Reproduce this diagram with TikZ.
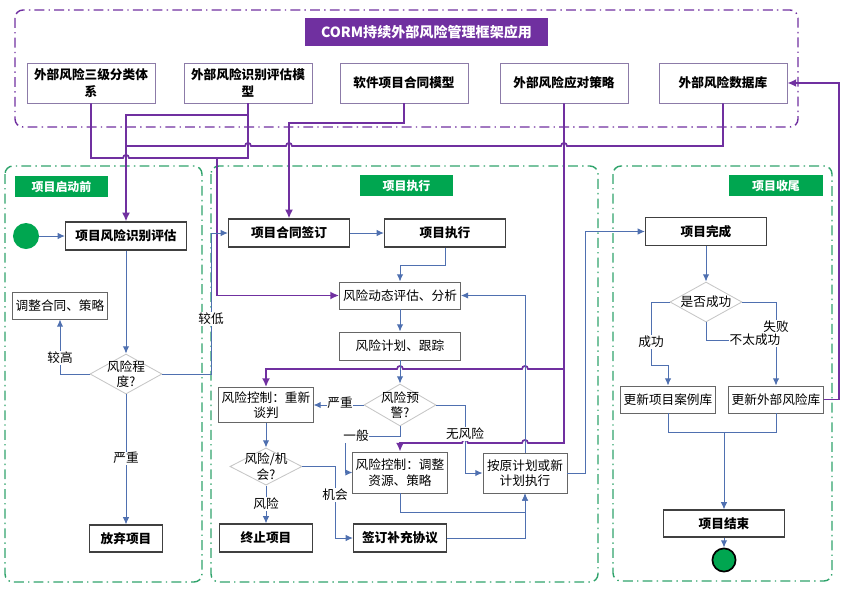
\documentclass[tikz,border=0pt]{standalone}
\usepackage{fontspec}
\setmainfont{Noto Sans CJK SC}
\usepackage{tikz}
\usetikzlibrary{arrows.meta,positioning,shapes.geometric}
\definecolor{CormPurple}{HTML}{7030A0}
\definecolor{CormFrame}{HTML}{8C7BA8}
\definecolor{CormGreen}{HTML}{00A650}
\definecolor{CormDash}{HTML}{2FA36B}
\definecolor{CormBlue}{HTML}{4F70B0}
\definecolor{CormRule}{HTML}{404040}
\definecolor{CormGrey}{HTML}{C6C6C6}

\begin{document}
\begin{tikzpicture}[
    x=0.025cm, y=-0.025cm,
    every node/.style={font=\fontsize{9}{11}\selectfont},
    fwbox/.style={
        rectangle,
        draw=CormFrame,
        fill=white,
        line width=0.6pt,
        minimum width=3.2cm,
        minimum height=1cm,
        align=center,
        inner sep=2pt,
        font=\fontsize{9}{12}\selectfont\bfseries
    },
    strong/.style={
        rectangle,
        draw=CormRule,
        fill=white,
        line width=0.8pt,
        minimum width=3.025cm,
        minimum height=0.7cm,
        align=center,
        inner sep=2pt,
        font=\fontsize{9}{11}\selectfont\bfseries
    },
    stage/.style={
        rectangle,
        draw=CormRule!80,
        fill=white,
        line width=0.6pt,
        minimum width=3.025cm,
        minimum height=0.7cm,
        align=center,
        inner sep=2pt
    },
    decision/.style={
        diamond,
        draw=CormGrey,
        fill=white,
        line width=0.6pt,
        minimum width=1.8cm,
        minimum height=1cm,
        inner sep=0pt
    },
    phase/.style={
        rectangle,
        fill=CormGreen,
        text=white,
        minimum width=2.325cm,
        minimum height=0.525cm,
        inner sep=0pt,
        font=\fontsize{8.5}{10}\selectfont\bfseries
    },
    lbl/.style={fill=white, inner sep=0.5pt},
    panel/.style={
        draw=CormDash,
        line width=1pt,
        rounded corners=0.2cm,
        dash pattern=on 7pt off 3pt on 1pt off 3pt
    },
    fwpanel/.style={panel, draw=CormPurple},
    flow/.style={
        -{Latex[length=1.8mm,width=1.6mm]},
        line width=0.7pt,
        color=CormBlue
    },
    flowline/.style={line width=0.7pt, color=CormBlue},
    fwflow/.style={
        -{Latex[length=2.2mm,width=2mm]},
        line width=1.2pt,
        color=CormPurple
    },
    fwline/.style={line width=1.2pt, color=CormPurple},
    endpoint/.style={circle, fill=CormGreen, minimum size=0.65cm, inner sep=0pt}
]
\useasboundingbox (0,0) rectangle (856,600);

% panels
\draw[fwpanel] (15,10) rectangle (798,127);
\draw[panel] (5,166) rectangle (202,582);
\draw[panel] (211,166) rectangle (598,582);
\draw[panel] (613,166) rectangle (832,581);

% framework
\node[rectangle, fill=CormPurple, text=white, minimum width=6.075cm, minimum height=0.7cm,
      font=\fontsize{10}{12}\selectfont\bfseries] (title) at (426.5,32) {CORM持续外部风险管理框架应用};
\node[fwbox] (fw1) at (91,83) {外部风险三级分类体\\系};
\node[fwbox] (fw2) at (248,83) {外部风险识别评估模\\型};
\node[fwbox] (fw3) at (404,83) {软件项目合同模型};
\node[fwbox] (fw4) at (564,83) {外部风险应对策略};
\node[fwbox] (fw5) at (723,83) {外部风险数据库};

\node[phase] (pre) at (61.5,186.5) {项目启动前};
\node[phase] (run) at (406.5,185.5) {项目执行};
\node[phase] (post) at (776,185.5) {项目收尾};

% before start
\node[endpoint] (start) at (26,236) {};
\node[strong] (n1) at (126,236) {项目风险识别评估};
\node[stage, minimum width=2.35cm, minimum height=0.675cm] (adjc) at (60,305.5) {调整合同、策略};
\node[decision, label={[align=center]center:{风险程\\度?}}] (d1) at (126,374) {};
\node[strong, minimum width=1.825cm, minimum height=0.675cm] (abandon) at (126,538.5) {放弃项目};

% execution
\node[strong] (contract) at (289,233) {项目合同签订};
\node[strong] (exec) at (445,233) {项目执行};
\node[stage, minimum height=0.675cm] (dyn) at (400,295.5) {风险动态评估、分析};
\node[stage] (plan) at (400,346) {风险计划、跟踪};
\node[decision, minimum height=1.05cm, label={[align=center]center:{风险预\\警?}}] (d2) at (400,405) {};
\node[stage, minimum width=2.3cm, minimum height=0.875cm] (reneg) at (266,405) {风险控制：重新\\谈判};
\node[decision, minimum height=0.93cm, label={[align=center]center:{风险/机\\会?}}] (d3) at (266,466.5) {};
\node[strong, minimum width=2.325cm] (terminate) at (266,538) {终止项目};
\node[stage, minimum width=2.325cm, minimum height=1.025cm] (adjust) at (400,472.5) {风险控制：调整\\资源、策略};
\node[strong, minimum width=2.325cm] (supp) at (400,538) {签订补充协议};
\node[stage, minimum width=2.1cm, minimum height=1cm] (follow) at (525,473) {按原计划或新\\计划执行};

% closing
\node[strong] (done) at (706,231.5) {项目完成};
\node[decision, label={center:是否成功}] (d4) at (706,302) {};
\node[stage, minimum width=2.325cm, minimum height=0.675cm] (caselib) at (668,399.5) {更新项目案例库};
\node[stage, minimum width=2.325cm, minimum height=0.675cm] (extdb) at (776,399.5) {更新外部风险库};
\node[strong, minimum height=0.675cm] (finish) at (724,523.5) {项目结束};
\node[endpoint, draw=black, line width=1.2pt, minimum size=0.58cm] (stop) at (724,560) {};

% framework links
\draw[fwline] (fw1.south) -- (91,158) -- (123,158) .. controls +(0,-4) and +(0,-4) .. (129,158)
    -- (248,158) -- (fw2.south);
\draw[fwflow] (217,158) |- (dyn.west);
\draw[fwflow] (fw2.south) -- (248,115) -| (n1.north);
\draw[fwline] (fw5.south) |- (567,146) .. controls +(0,-4) and +(0,-4) .. (561,146)
    -- (292,146) .. controls +(0,-4) and +(0,-4) .. (286,146)
    -- (251,146) .. controls +(0,-4) and +(0,-4) .. (245,146) -- (126,146);
\draw[fwflow] (fw3.south) -- (404,123) -| (contract.north);
\draw[fwflow] (fw4.south) -- (564,369) -- (528,369) .. controls +(0,-4) and +(0,-4) .. (522,369)
    -- (403,369) .. controls +(0,-4) and +(0,-4) .. (397,369) -| (reneg.north);
\draw[fwflow] (564,369) -- (564,443) -- (528,443) .. controls +(0,-4) and +(0,-4) .. (522,443)
    -- (468,443) .. controls +(0,-4) and +(0,-4) .. (462,443) -| (adjust.north);
\draw[fwflow] (extdb.east) -- (839,399.5) |- (fw5.east);

% process flow
\draw[flow] (start) -- (n1);
\draw[flow] (n1) -- (d1);
\draw[flow] (d1.west) -| (adjc.south);
\draw[flow] (d1) -- (abandon);
\draw[flow] (d1.east) -- (211,374) |- (contract.west);
\draw[flow] (contract) -- (exec);
\draw[flow] (exec.south) -- (445,265) -| (dyn.north);
\draw[flow] (dyn) -- (plan);
\draw[flow] (plan) -- (d2);
\draw[flow] (d2.west) -- (reneg.east);
\draw[flow] (d2.south) -- (400,436) -- (345,436) |- (adjust.west);
\draw[flow] (d2.east) -- (465,405) |- (follow.west);
\draw[flow] (reneg) -- (d3);
\draw[flow] (d3) -- (terminate);
\draw[flow] (d3.east) -- (335,466.5) |- (supp.west);
\draw[flow] (adjust.south) -- (400,512) -| (follow.south);
\draw[flow] (supp.east) -| (follow.south);
\draw[flow] (follow.north) |- (dyn.east);
\draw[flow] (follow.east) -- (585,473) |- (done.west);
\draw[flow] (done) -- (d4);
\draw[flow] (d4.west) -- (651,302) -- (651,365) -| (caselib.north);
\draw[flow] (d4.east) -| (extdb.north);
\draw[flowline] (d4.south) |- (776,340);
\draw[flowline] (caselib.south) |- (776,432) -- (extdb.south);
\draw[flow] (724,432) -- (finish.north);
\draw[flow] (finish) -- (stop);

% branch labels
\node[lbl] (lhigh) at (60,358) {较高};
\node[lbl] (lsev) at (126,458) {严重};
\node[lbl] (llow) at (211,319) {较低};
\node[lbl] (lsev2) at (340,403) {严重};
\node[lbl] (lnorm) at (356,436) {一般};
\node[lbl] (lnone) at (465,434) {无风险};
\node[lbl] (lrisk) at (266,504) {风险};
\node[lbl] (lchance) at (335,495) {机会};
\node[lbl] (lok) at (651,342) {成功};
\node[lbl] (lfail) at (776,327) {失败};
\node[lbl] (lpart) at (755,340) {不太成功};

\end{tikzpicture}
\end{document}
